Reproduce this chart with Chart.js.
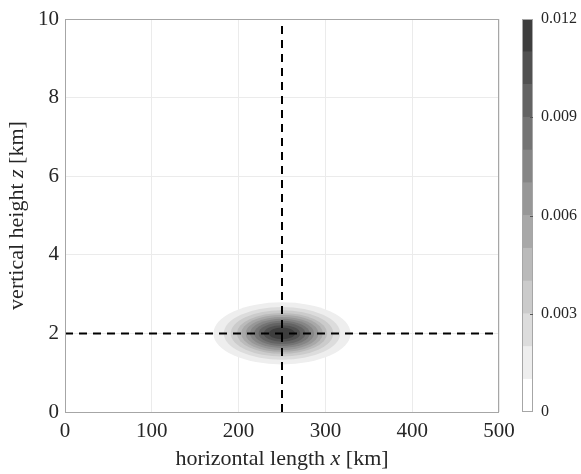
<!DOCTYPE html>
<html>
<head>
<meta charset="utf-8">
<script src="https://cdn.jsdelivr.net/npm/chart.js@4.4.1/dist/chart.umd.min.js"></script>
<style>
  html, body { margin: 0; padding: 0; background: #fff; }
  #wrap { position: relative; width: 581px; height: 474px; }
  #main { position: absolute; left: 0; top: 0; }
  #bar { position: absolute; left: 500px; top: 0; }
</style>
</head>
<body>
<div id="wrap">
  <canvas id="main" width="581" height="474"></canvas>
  <canvas id="bar" width="81" height="474"></canvas>
</div>
<script>
// contour levels of the bubble and the ellipse half-widths
const levels  = [0.001, 0.002, 0.003, 0.004, 0.005, 0.006, 0.007, 0.008, 0.009, 0.010, 0.011]
const halfX   = [79, 67, 59, 52, 47, 42, 37, 32, 27, 21, 15]          // km
const halfZ   = [0.79, 0.67, 0.59, 0.52, 0.47, 0.42, 0.37, 0.32, 0.27, 0.21, 0.15]  // km
const centreX = 250
const centreZ = 2
const xTicks  = [0, 100, 200, 300, 400, 500]
const zTicks  = [0, 2, 4, 6, 8, 10]
const cbTicks = [0, 0.003, 0.006, 0.009, 0.012]
const cbBands = [0.001, 0.001, 0.001, 0.001, 0.001, 0.001, 0.001, 0.001, 0.001, 0.001, 0.001, 0.001]

// colormap, one grey per band (band 0 = white)
const greys = [255, 238, 220, 203, 186, 168, 151, 134, 116, 99, 81, 62]
  .map(g => `rgb(${g},${g},${g})`)

const serif = "'Liberation Serif', 'DejaVu Serif', serif"
const textCol = '#262626'

const bubble = {
  id: 'bubble',
  beforeDatasetsDraw(chart) {
    const { ctx, scales: { x, y }, chartArea } = chart
    ctx.save()
    ctx.beginPath()
    ctx.rect(chartArea.left, chartArea.top, chartArea.width, chartArea.height)
    ctx.clip()
    const cx = x.getPixelForValue(centreX)
    const cy = y.getPixelForValue(centreZ)
    levels.forEach((lv, i) => {
      const rx = Math.abs(x.getPixelForValue(centreX + halfX[i]) - cx)
      const ry = Math.abs(y.getPixelForValue(centreZ + halfZ[i]) - cy)
      ctx.beginPath()
      ctx.ellipse(cx, cy, rx, ry, 0, 0, Math.PI * 2)
      ctx.fillStyle = greys[i + 1]
      ctx.fill()
    })
    ctx.restore()
  },
  afterDraw(chart) {
    const { ctx, chartArea } = chart
    ctx.save()
    ctx.strokeStyle = '#a6a6a6'
    ctx.lineWidth = 1
    ctx.strokeRect(chartArea.left + 0.5, chartArea.top + 0.5, chartArea.width - 1, chartArea.height)
    // axis titles with italic variable names
    drawMixed(ctx, [['horizontal length ', false], ['x', true], [' [km]', false]],
      (chartArea.left + chartArea.right) / 2, 459, 0)
    drawMixed(ctx, [['vertical height ', false], ['z', true], [' [km]', false]],
      17, (chartArea.top + chartArea.bottom) / 2, -Math.PI / 2)
    ctx.restore()
  }
}

function drawMixed(ctx, parts, cx, cy, rot) {
  const size = 22
  let total = 0
  parts.forEach(p => {
    ctx.font = (p[1] ? 'italic ' : '') + size + 'px ' + serif
    total += ctx.measureText(p[0]).width
  })
  ctx.save()
  ctx.translate(cx, cy)
  ctx.rotate(rot)
  ctx.fillStyle = textCol
  ctx.textBaseline = 'middle'
  ctx.textAlign = 'left'
  let pos = -total / 2
  parts.forEach(p => {
    ctx.font = (p[1] ? 'italic ' : '') + size + 'px ' + serif
    ctx.fillText(p[0], pos, 0)
    pos += ctx.measureText(p[0]).width
  })
  ctx.restore()
}

new Chart(document.getElementById('main'), {
  type: 'scatter',
  data: {
    datasets: [
      {
        type: 'line',
        data: [{ x: centreX, y: zTicks[0] }, { x: centreX, y: zTicks[zTicks.length - 1] }],
        borderColor: '#000', borderWidth: 2, borderDash: [8, 6], pointRadius: 0
      },
      {
        type: 'line',
        data: [{ x: xTicks[0], y: centreZ }, { x: xTicks[xTicks.length - 1], y: centreZ }],
        borderColor: '#000', borderWidth: 2, borderDash: [8, 6], pointRadius: 0
      }
    ]
  },
  options: {
    responsive: false,
    animation: false,
    events: [],
    layout: { padding: { left: 0, top: 19, right: 82, bottom: 0 } },
    plugins: { legend: { display: false }, tooltip: { enabled: false } },
    scales: {
      x: {
        type: 'linear',
        min: xTicks[0], max: xTicks[xTicks.length - 1],
        afterBuildTicks: s => { s.ticks = xTicks.map(v => ({ value: v })) },
        afterFit: s => { s.height = 62 },
        grid: { color: '#ebebeb', drawTicks: false },
        border: { display: false },
        ticks: { padding: 7, color: textCol, font: { family: serif, size: 21 } }
      },
      y: {
        type: 'linear',
        min: zTicks[0], max: zTicks[zTicks.length - 1],
        afterBuildTicks: s => { s.ticks = zTicks.map(v => ({ value: v })) },
        afterFit: s => { s.width = 65 },
        grid: { color: '#ebebeb', drawTicks: false },
        border: { display: false },
        ticks: { padding: 6, color: textCol, font: { family: serif, size: 21 } }
      }
    }
  },
  plugins: [bubble]
})

// colour bar
const cbBox = {
  id: 'cbBox',
  afterDraw(chart) {
    const { ctx, chartArea, scales: { y } } = chart
    ctx.save()
    ctx.strokeStyle = '#a6a6a6'
    ctx.lineWidth = 1
    ctx.strokeRect(chartArea.left + 0.5, chartArea.top + 0.5, chartArea.width - 1, chartArea.height - 1)
    ctx.strokeStyle = '#555'
    cbTicks.slice(1, -1).forEach(v => {
      const py = Math.round(y.getPixelForValue(v)) + 0.5
      ctx.beginPath()
      ctx.moveTo(chartArea.right - 3, py)
      ctx.lineTo(chartArea.right, py)
      ctx.stroke()
    })
    ctx.restore()
  }
}

new Chart(document.getElementById('bar'), {
  type: 'bar',
  data: {
    labels: [''],
    datasets: cbBands.map((b, i) => ({
      data: [b],
      backgroundColor: greys[i],
      borderWidth: 0,
      barPercentage: 1,
      categoryPercentage: 1
    }))
  },
  options: {
    responsive: false,
    animation: false,
    events: [],
    layout: { padding: { left: 22, top: 19, right: 0, bottom: 62 } },
    plugins: { legend: { display: false }, tooltip: { enabled: false } },
    scales: {
      x: { stacked: true, display: false },
      y: {
        stacked: true,
        position: 'right',
        min: cbTicks[0], max: cbTicks[cbTicks.length - 1],
        afterBuildTicks: s => { s.ticks = cbTicks.map(v => ({ value: v })) },
        afterFit: s => { s.width = 48 },
        grid: { display: false },
        border: { display: false },
        ticks: {
          padding: 0, color: textCol, font: { family: serif, size: 16 },
          callback: v => v === 0 ? '0' : v.toFixed(3)
        }
      }
    }
  },
  plugins: [cbBox]
})
</script>
</body>
</html>
